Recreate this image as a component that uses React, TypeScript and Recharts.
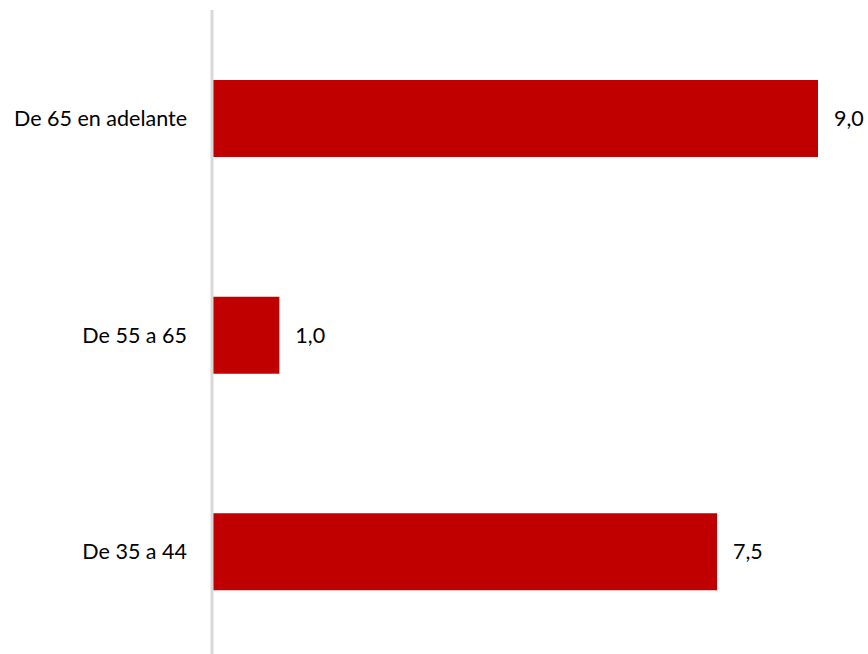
import { BarChart, Bar, XAxis, YAxis, LabelList } from "recharts";

const categories = ["De 65 en adelante", "De 55 a 65", "De 35 a 44"];
const values = [9.0, 1.0, 7.5];

const data = categories.map((name, i) => ({ name, value: values[i] }));

const font = "Lato, Carlito, Calibri, sans-serif";

export default function App() {
  return (
    <div style={{ position: "absolute", left: 0, top: 0, background: "#fff" }}>
      <BarChart
        width={868}
        height={670}
        data={data}
        layout="vertical"
        margin={{ top: 10, right: 50, bottom: 10, left: 0 }}
      >
        <XAxis type="number" domain={[0, 9]} hide />
        <YAxis
          type="category"
          dataKey="name"
          width={212}
          axisLine={{ stroke: "#d9d9d9", strokeWidth: 3 }}
          tickLine={false}
          tickSize={0}
          tickMargin={25}
          tick={{ fill: "#000", fontSize: 21.5, fontFamily: font }}
        />
        <Bar dataKey="value" fill="#c00000" barSize={77} isAnimationActive={false}>
          <LabelList
            dataKey="value"
            position="right"
            offset={16}
            formatter={(v: number) => v.toFixed(1).replace(".", ",")}
            style={{ fill: "#000", fontSize: 21.5, fontFamily: font }}
          />
        </Bar>
      </BarChart>
    </div>
  );
}
